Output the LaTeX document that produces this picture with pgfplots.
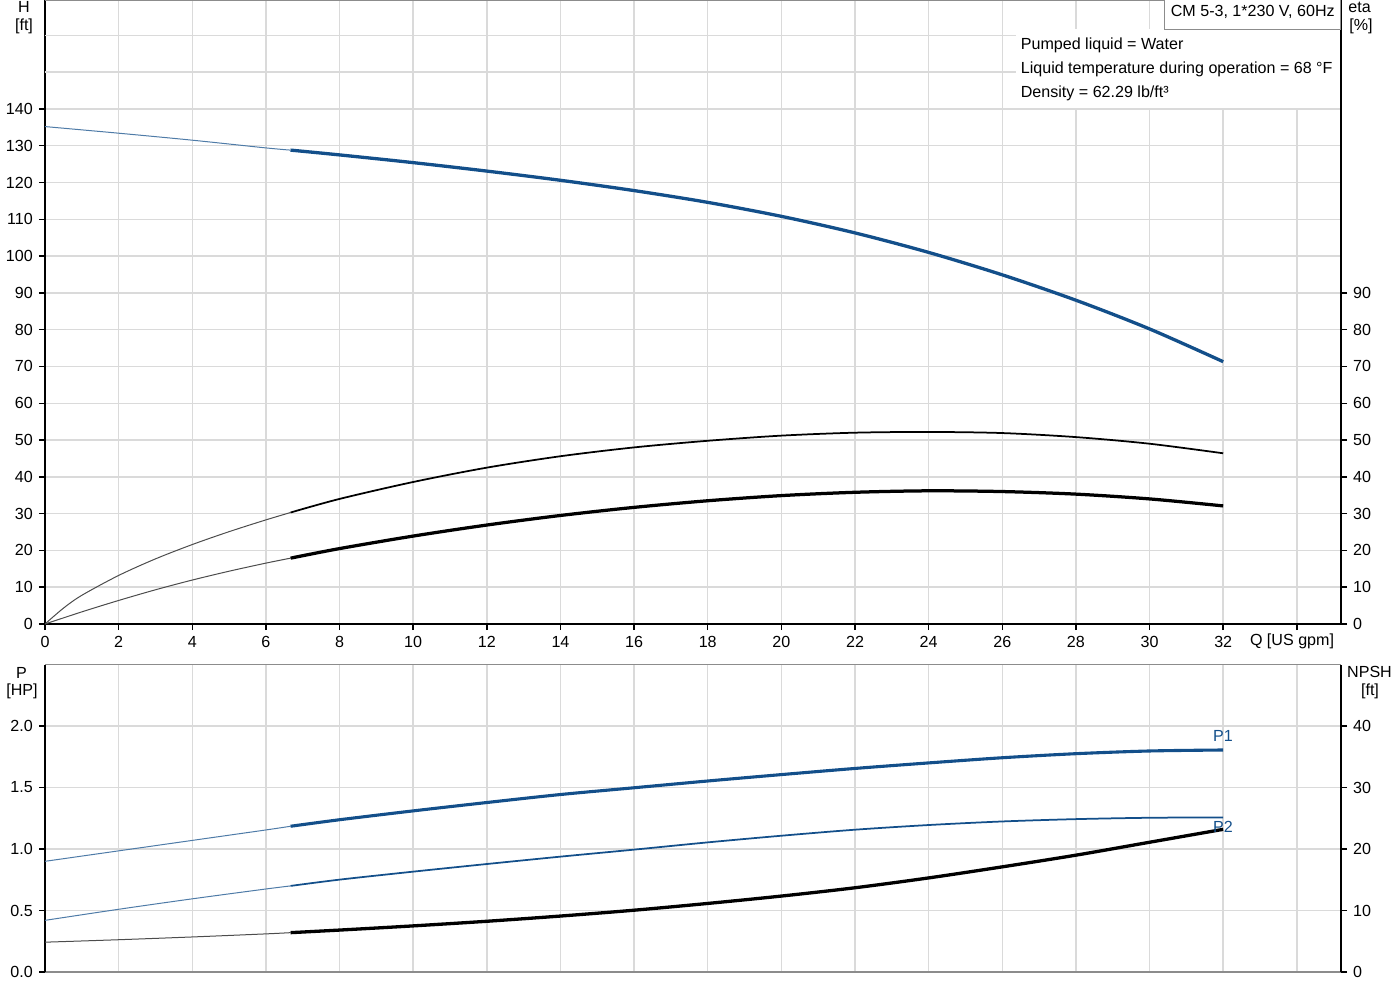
\documentclass[border=0pt]{standalone}
\usepackage{fontspec}
\setmainfont{Liberation Sans}
\usepackage{pgfplots}
\pgfplotsset{compat=1.18}

\definecolor{gbblue}{HTML}{134F8A}
\definecolor{gridgray}{HTML}{DADADA}
\definecolor{framegray}{HTML}{8C8C8C}

\newcommand\lbl{\fontsize{9.15}{11}\selectfont}

\pgfplotsset{
  pump/.style={
    scale only axis, width=25.92cm, xmin=0, xmax=35.2,
    axis line style={-, black, line width=0.04cm},
    tick align=outside, major tick length=0.12cm,
    every tick/.style={black, line width=0.03cm},
    tick label style={font=\lbl, black},
    /pgf/number format/assume math mode=true,
    major grid style={gridgray, line width=0.03cm},
  },
  hairline/.style={line width=0.02cm},
}

\begin{document}
\begin{tikzpicture}
% ---- top: head and efficiency
\begin{axis}[pump, at={(0.9cm,-12.48cm)}, anchor=south west, height=12.48cm,
    ymin=0, ymax=169.6, axis x line*=bottom, axis y line*=left,
    grid=major,
    xtick={0,2,...,34},
    xticklabels={0,2,4,6,8,10,12,14,16,18,20,22,24,26,28,30,32,{}},
    ytick={0,10,...,140},
    extra y ticks={150,160}, extra y tick labels={},
    extra y tick style={major tick length=0pt, grid=major}]
  \addplot[gbblue!75, hairline, smooth] coordinates {(0,135.2) (2,133.4) (4,131.5) (6,129.4) (6.67,128.8)};
  \addplot[gbblue, line width=0.066cm, smooth] coordinates {(6.67,128.8) (8,127.5) (10,125.4) (12,123.1) (14,120.6) (16,117.8) (18,114.6) (20,110.8) (22,106.3) (24,101.0) (26,94.9) (28,88.0) (30,80.2) (32,71.3)};
\end{axis}
\begin{axis}[pump, at={(0.9cm,-12.48cm)}, anchor=south west, height=12.48cm,
    ymin=0, ymax=169.6, axis x line=none, axis y line*=right,
    ytick={0,10,...,90}]
  \addplot[black!70, hairline, smooth] coordinates {(0,0) (0.5,4.3) (1,7.8) (2,13.2) (3,17.7) (4,21.6) (5,25.1) (6,28.3) (6.67,30.3)};
  \addplot[black, line width=0.035cm, smooth] coordinates {(6.67,30.3) (8,34.0) (10,38.6) (12,42.5) (14,45.6) (16,48.0) (18,49.8) (20,51.2) (22,52.0) (24,52.2) (26,51.9) (28,50.8) (30,49.0) (32,46.4)};
  \addplot[black!70, hairline, smooth] coordinates {(0,0) (1,3.3) (2,6.4) (3,9.3) (4,11.95) (5,14.35) (6,16.55) (6.67,17.9)};
  \addplot[black, line width=0.065cm, smooth] coordinates {(6.67,17.9) (8,20.5) (10,23.9) (12,26.9) (14,29.5) (16,31.7) (18,33.5) (20,34.9) (22,35.8) (24,36.2) (26,36.0) (28,35.3) (30,34.0) (32,32.1)};
\end{axis}
% ---- bottom: power and NPSH
\begin{axis}[pump, at={(0.9cm,-19.44cm)}, anchor=south west, height=6.15cm,
    ymin=0, ymax=2.5, axis x line*=bottom, axis y line*=left,
    x axis line style={framegray, line width=0.03cm},
    grid=major,
    xtick={0,2,...,34}, xticklabels={}, xtick style={draw=none},
    ytick={0,0.5,1,1.5,2},
    yticklabel style={/pgf/number format/.cd, fixed, fixed zerofill, precision=1}]
  \addplot[gbblue!75, hairline, smooth] coordinates {(0,0.90) (2,0.985) (4,1.07) (6,1.155) (6.67,1.185)};
  \addplot[gbblue, line width=0.062cm, smooth] coordinates {(6.67,1.185) (8,1.238) (10,1.31) (12,1.378) (14,1.443) (16,1.498) (18,1.553) (20,1.605) (22,1.655) (24,1.70) (26,1.742) (28,1.775) (30,1.797) (32,1.805)};
  \addplot[gbblue!75, hairline, smooth] coordinates {(0,0.42) (2,0.51) (4,0.595) (6,0.675) (6.67,0.70)};
  \addplot[gbblue, line width=0.035cm, smooth] coordinates {(6.67,0.70) (8,0.751) (10,0.816) (12,0.878) (14,0.938) (16,0.995) (18,1.054) (20,1.108) (22,1.157) (24,1.195) (26,1.224) (28,1.243) (30,1.254) (32,1.257)};
\end{axis}
\begin{axis}[pump, at={(0.9cm,-19.44cm)}, anchor=south west, height=6.15cm,
    ymin=0, ymax=50, axis x line=none, axis y line*=right,
    ytick={0,10,...,40}]
  \addplot[black!70, hairline, smooth] coordinates {(0,4.85) (2,5.25) (4,5.7) (6,6.2) (6.67,6.4)};
  \addplot[black, line width=0.066cm, smooth] coordinates {(6.67,6.4) (8,6.82) (10,7.5) (12,8.25) (14,9.1) (16,10.05) (18,11.15) (20,12.35) (22,13.7) (24,15.3) (26,17.1) (28,19.0) (30,21.1) (32,23.2)};
\end{axis}
% ---- frame pieces, boxes and texts
\draw[framegray, line width=0.03cm] (0.9,-0.01) -- (26.82,-0.01);
\draw[framegray, line width=0.03cm] (0.9,-13.29) -- (26.82,-13.29);
\fill[white] (20.32,-0.58) rectangle (26.79,-2.16);
\draw[framegray, line width=0.03cm, fill=white] (23.29,0.05) rectangle (26.81,-0.586);
\node[anchor=base west, inner sep=0, font=\lbl] at (23.41,-0.334) {CM 5-3, 1*230 V, 60Hz};
\node[anchor=base west, inner sep=0, font=\lbl] at (20.41,-0.986) {Pumped liquid = Water};
\node[anchor=base west, inner sep=0, font=\lbl] at (20.41,-1.466) {Liquid temperature during operation = 68 °F};
\node[anchor=base west, inner sep=0, font=\lbl] at (20.41,-1.946) {Density = 62.29 lb/ft³};
\node[anchor=base, inner sep=0, font=\lbl] at (0.48,-0.246) {H};
\node[anchor=base, inner sep=0, font=\lbl] at (0.48,-0.61) {[ft]};
\node[anchor=base west, inner sep=0, font=\lbl] at (26.96,-0.25) {eta};
\node[anchor=base west, inner sep=0, font=\lbl] at (26.98,-0.61) {[\%]};
\node[anchor=base, inner sep=0, font=\lbl] at (25.84,-12.9) {Q [US gpm]};
\node[anchor=base, inner sep=0, font=\lbl] at (0.43,-13.566) {P};
\node[anchor=base, inner sep=0, font=\lbl] at (0.44,-13.91) {[HP]};
\node[anchor=base, inner sep=0, font=\lbl] at (27.39,-13.554) {NPSH};
\node[anchor=base, inner sep=0, font=\lbl] at (27.4,-13.91) {[ft]};
\node[anchor=base, inner sep=0, font=\lbl, text=gbblue] at (24.46,-14.834) {P1};
\node[anchor=base, inner sep=0, font=\lbl, text=gbblue] at (24.46,-16.646) {P2};
\pgfresetboundingbox
\useasboundingbox (0,0) rectangle (28,-20);
\end{tikzpicture}
\end{document}
